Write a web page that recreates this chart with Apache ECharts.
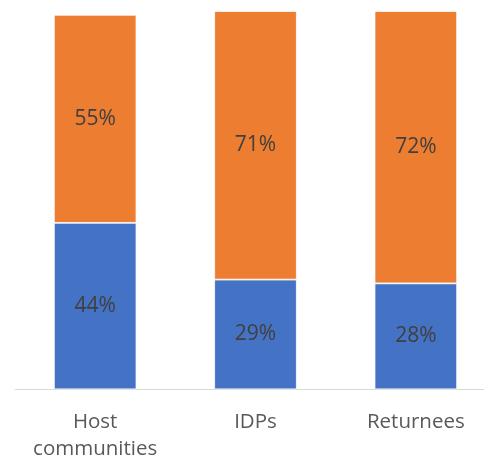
<!DOCTYPE html>
<html>
<head>
<meta charset="utf-8">
<script src="https://cdn.jsdelivr.net/npm/echarts@6/dist/echarts.min.js"></script>
<style>
  html, body { margin: 0; padding: 0; background: #fff; }
  #chart { width: 484px; height: 460px; }
</style>
</head>
<body>
<div id="chart"></div>
<script>
// Share of respondents per population group (percent)
const categories = ['Host\ncommunities', 'IDPs', 'Returnees'];
const lowerShare = [44, 29, 28];
const upperShare = [55, 71, 72];

const chart = echarts.init(document.getElementById('chart'));

const segmentLabel = {
  show: true,
  position: 'inside',
  formatter: p => p.value + '%',
  color: '#404040',
  fontFamily: 'Open Sans',
  fontSize: 21
};

chart.setOption({
  animation: false,
  grid: { left: 15, width: 481, top: 11, bottom: 70.7, outerBoundsMode: 'none' },
  xAxis: {
    type: 'category',
    data: categories,
    axisLine: { lineStyle: { color: '#d9d9d9', width: 1 } },
    axisTick: { show: false },
    axisLabel: {
      interval: 0,
      color: '#595959',
      fontFamily: 'Open Sans',
      fontSize: 20.5,
      lineHeight: 27,
      margin: 19
    }
  },
  yAxis: {
    type: 'value',
    min: 0,
    max: 100,
    show: false,
    splitLine: { show: false }
  },
  series: [
    {
      type: 'bar',
      stack: 'total',
      data: lowerShare,
      barWidth: '51.5%',
      itemStyle: { color: '#4472C4', borderColor: '#ffffff', borderWidth: 0.8 },
      label: segmentLabel
    },
    {
      type: 'bar',
      stack: 'total',
      data: upperShare,
      barWidth: '51.5%',
      itemStyle: { color: '#ED7D31', borderColor: '#ffffff', borderWidth: 0.8 },
      label: segmentLabel
    }
  ]
});
</script>
</body>
</html>
